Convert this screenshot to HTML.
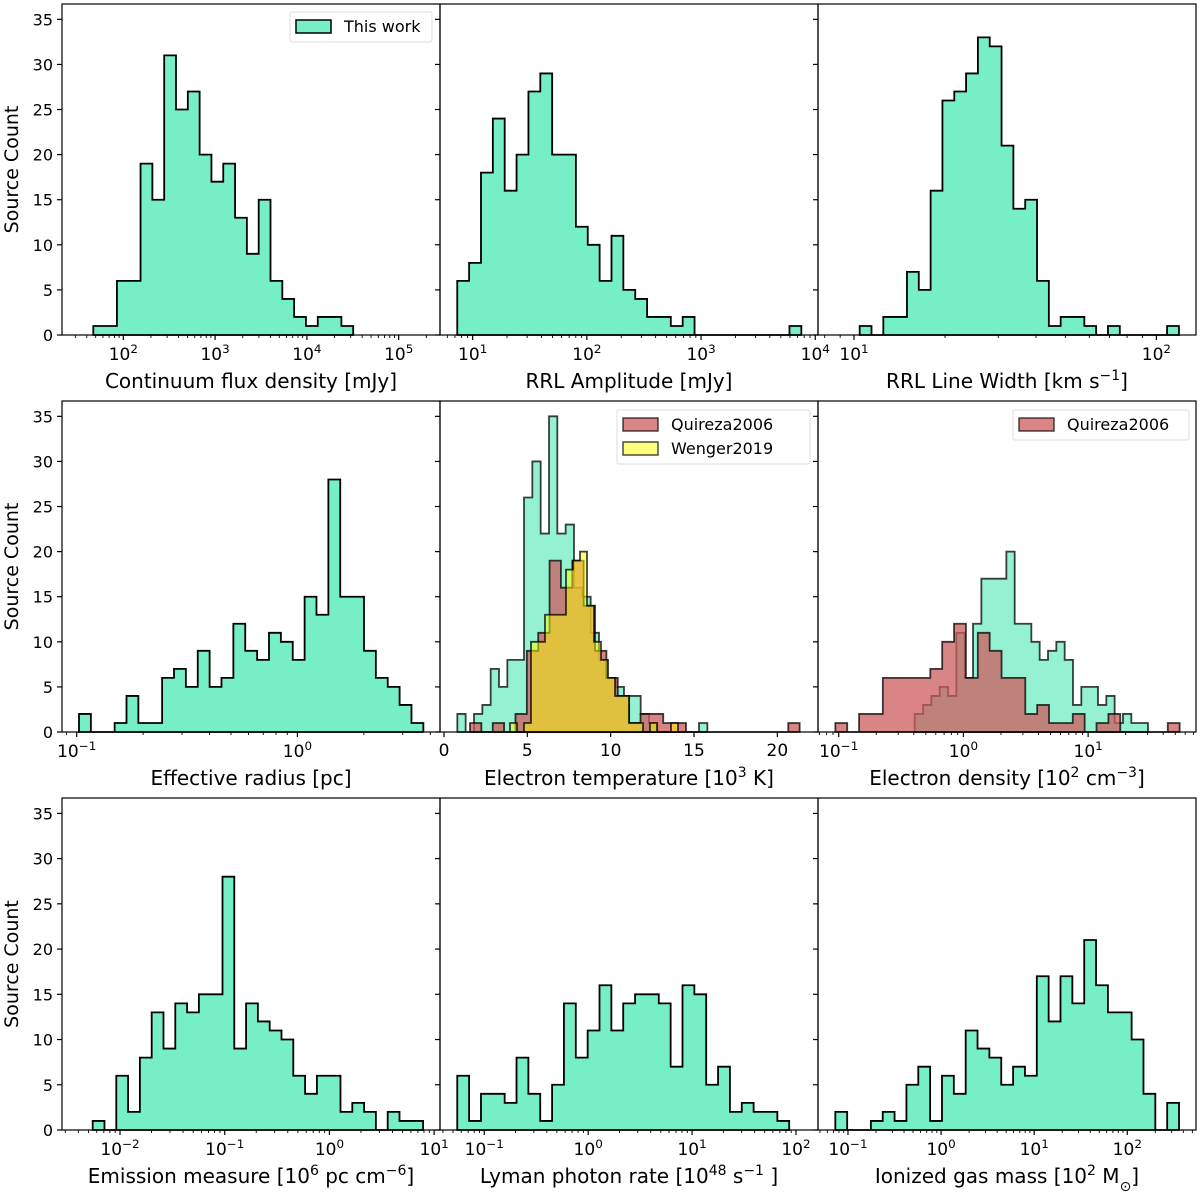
<!DOCTYPE html>
<html><head><meta charset="utf-8"><style>
html,body{margin:0;padding:0;background:#fff;}
svg{display:block;font-family:"DejaVu Sans","Liberation Sans",sans-serif;}
</style></head><body>
<svg id="fig" width="1200" height="1193" viewBox="0 0 1200 1193" xmlns="http://www.w3.org/2000/svg"></svg>
<script>
// ---- data (bin starts / widths in axis units; log axes in log10 units) ----
const fluxCounts = [1,1,6,6,19,15,31,25,27,20,17,19,13,9,15,6,4,2,1,2,2,1];
const fluxBins = [1.673, 0.1287];
const ampCounts = [6,8,18,24,16,20,27,29,20,20,12,10,6,11,5,4,2,2,1,2,0,0,0,0,0,0,0,0,1];
const ampBins = [0.865, 0.1039];
const widthCounts = [1,0,2,2,7,5,16,26,27,29,33,32,21,14,15,6,1,2,2,1,0,1,0,0,0,0,1];
const widthBins = [1.0188, 0.0391];
const radiusCounts = [2,0,0,1,4,1,1,6,7,5,9,5,6,12,9,8,11,10,8,15,13,28,15,15,9,6,5,3,1];
const radiusBins = [-0.9896, 0.0538];
const teCounts = [2,0,2,3,7,5,8,8,26,30,22,35,22,23,16,15,11,8,6,5,4,4,2,1,0,0,0,0,0,1];
const teBins = [0.8, 0.5];
const teQuirezaCounts = [1,0,1,0,2,9,11,19,16,19,14,9,6,4,1,2,2,1,1,0,0,0,0,0,0,0,0,0,1];
const teQuirezaBins = [1.56, 0.682];
const teWengerCounts = [1,0,1,10,10,13,13,13,18,19,20,14,10,8,6,4,4,1,1,0,1,0,0,1];
const teWengerBins = [3.96, 0.42];
const neCounts = [2,3,4,5,4,11,6,12,17,17,17,20,12,12,10,8,9,10,8,3,5,5,3,4,1,2,1,1];
const neBins = [-0.3905, 0.0668];
const neQuirezaCounts = [1,0,2,2,6,6,6,6,7,10,12,6,11,9,6,6,2,3,1,1,2,0,1,2,0,0,0,0,1];
const neQuirezaBins = [-1.027, 0.0952];
const emCounts = [1,0,6,2,8,13,9,14,13,15,15,28,9,14,12,11,10,6,4,6,6,2,3,2,0,2,1,1];
const emBins = [-2.261, 0.1127];
const lymanCounts = [6,1,4,4,3,8,4,1,5,14,8,11,16,11,14,15,15,14,7,16,15,5,7,2,3,2,2,1];
const lymanBins = [-1.26, 0.1141];
const massCounts = [2,0,0,1,2,1,5,7,1,6,4,11,9,8,5,7,6,17,12,17,14,21,16,13,13,10,4,0,3];
const massBins = [-1.136, 0.1273];
const yTickValues = [0,5,10,15,20,25,30,35];
const teTickValues = [0,5,10,15,20];

const NS = "http://www.w3.org/2000/svg";
const svg = document.getElementById('fig');
function el(tag, attrs, parent){const e=document.createElementNS(NS,tag);for(const k in attrs)e.setAttribute(k,attrs[k]);(parent||svg).appendChild(e);return e;}

const GREEN = "#76EEC6", RED = "#CD5C5C", YEL = "#FFFF00";
const YMAX = 36.7;
const cols = [[62,440],[440,818],[818,1196]];
const rows = [[4,335],[401,732],[798,1130]];

function makeAxis(c, r, lo, hi, log){
  const [x0,x1]=cols[c],[yt,yb]=rows[r];
  return {x0,x1,yt,yb,lo,hi,log,
    x:v=>x0+(v-lo)/(hi-lo)*(x1-x0),
    y:v=>yb-v/YMAX*(yb-yt)};
}

function hist(ax, bins, counts, fill, alpha, name){
  const [start,w]=bins;
  let d=`M${ax.x(start)},${ax.y(0)}`;
  counts.forEach((c,i)=>{
    const a=ax.x(start+i*w), b=ax.x(start+(i+1)*w), y=ax.y(c);
    d+=` L${a},${y} L${b},${y}`;
  });
  d+=` L${ax.x(start+counts.length*w)},${ax.y(0)} Z`;
  const p=el('path',{d,fill,'fill-opacity':alpha,stroke:'#000','stroke-opacity':alpha<1?0.75:1,'stroke-width':1.8,'stroke-linejoin':'miter'});
  
  
}

function supText(parent, x, y, parts, size, anchor, name){
  const t=el('text',{x,y,'font-size':size,'text-anchor':anchor||'middle',fill:'#000'},parent);
  
  
  parts.forEach(p=>{
    const s=el('tspan',{},t);
    if(p.sup){s.setAttribute('baseline-shift','super');s.setAttribute('font-size',size*0.7);}
    if(p.sub){s.setAttribute('baseline-shift','sub');s.setAttribute('font-size',size*0.7);}
    s.textContent=p.t;
  });
  return t;
}

function frameAndTicks(ax, showYLabels, xlabel, name, linTicks){
  const g=el('g',{});
  
  
  yTickValues.forEach(v=>{
    const y=ax.y(v);
    el('line',{x1:ax.x0-5,x2:ax.x0,y1:y,y2:y,stroke:'#000','stroke-width':1.2},g);
    if(showYLabels){
      const t=el('text',{x:ax.x0-9,y:y+6,'font-size':16,'text-anchor':'end'},g);
      
      
      t.textContent=v;
    }
  });
  if(linTicks){
    linTicks.forEach(v=>{
      const x=ax.x(v);
      el('line',{x1:x,x2:x,y1:ax.yb,y2:ax.yb+5,stroke:'#000','stroke-width':1.2},g);
      const t=el('text',{x,y:ax.yb+24,'font-size':17,'text-anchor':'middle'},g);
      
      
      t.textContent=v;
    });
  } else {
    for(let d=Math.floor(ax.lo);d<=Math.ceil(ax.hi);d++){
      for(let k=1;k<10;k++){
        const v=d+Math.log10(k);
        if(v<ax.lo||v>ax.hi)continue;
        const x=ax.x(v);
        el('line',{x1:x,x2:x,y1:ax.yb,y2:ax.yb+(k===1?5:3),stroke:'#000','stroke-width':k===1?1.2:0.9},g);
        if(k===1){
          supText(g,x,ax.yb+25,[{t:'10'},{t:(d<0?'\u2212'+(-d):''+d),sup:true}],17,'middle','x-tick-label');
        }
      }
    }
  }
  el('rect',{x:ax.x0,y:ax.yt,width:ax.x1-ax.x0,height:ax.yb-ax.yt,fill:'none',stroke:'#000','stroke-width':1.2},g);
  supText(g,(ax.x0+ax.x1)/2,ax.yb+53,xlabel,20,'middle','x-axis-title');
}

function legend(x,y,w,entries,name){
  const g=el('g',{});
  
  
  const h=entries.length*24+6;
  el('rect',{x,y,width:w,height:h,fill:'#fff','fill-opacity':0.8,stroke:'#ddd','stroke-width':1,rx:2},g);
  entries.forEach((e,i)=>{
    const yy=y+8+i*24;
    el('rect',{x:x+6,y:yy,width:35,height:13,fill:e.c,'fill-opacity':e.a,stroke:'#000','stroke-opacity':e.a<1?0.7:1,'stroke-width':1.5},g);
    const t=el('text',{x:x+54,y:yy+12,'font-size':16},g);
    
    
    t.textContent=e.t;
  });
}

const a1=makeAxis(0,0,1.332,5.45,true);
hist(a1,fluxBins,fluxCounts,GREEN,1,'hist-continuum-flux');
frameAndTicks(a1,true,[{t:'Continuum flux density [mJy]'}],'panel-continuum-flux');

const a2=makeAxis(1,0,0.714,4.024,true);
hist(a2,ampBins,ampCounts,GREEN,1,'hist-rrl-amplitude');
frameAndTicks(a2,false,[{t:'RRL Amplitude [mJy]'}],'panel-rrl-amplitude');

const a3=makeAxis(2,0,0.881,2.131,true);
hist(a3,widthBins,widthCounts,GREEN,1,'hist-rrl-width');
frameAndTicks(a3,false,[{t:'RRL Line Width [km s'},{t:'\u22121',sup:true},{t:']'}],'panel-rrl-width');

const a4=makeAxis(0,1,-1.0666,0.646,true);
hist(a4,radiusBins,radiusCounts,GREEN,1,'hist-effective-radius');
frameAndTicks(a4,true,[{t:'Effective radius [pc]'}],'panel-effective-radius');

const a5=makeAxis(1,1,-0.24,22.44,false);
hist(a5,teBins,teCounts,GREEN,0.78,'hist-te-this-work');
hist(a5,teQuirezaBins,teQuirezaCounts,RED,0.75,'hist-te-quireza2006');
hist(a5,teWengerBins,teWengerCounts,YEL,0.5,'hist-te-wenger2019');
frameAndTicks(a5,false,[{t:'Electron temperature [10'},{t:'3',sup:true},{t:' K]'}],'panel-electron-temperature',teTickValues);

const a6=makeAxis(2,1,-1.166,1.865,true);
hist(a6,neBins,neCounts,GREEN,0.78,'hist-ne-this-work');
hist(a6,neQuirezaBins,neQuirezaCounts,RED,0.75,'hist-ne-quireza2006');
frameAndTicks(a6,false,[{t:'Electron density [10'},{t:'2',sup:true},{t:' cm'},{t:'\u22123',sup:true},{t:']'}],'panel-electron-density');

const a7=makeAxis(0,2,-2.554,1.056,true);
hist(a7,emBins,emCounts,GREEN,1,'hist-emission-measure');
frameAndTicks(a7,true,[{t:'Emission measure [10'},{t:'6',sup:true},{t:' pc cm'},{t:'\u22126',sup:true},{t:']'}],'panel-emission-measure');

const a8=makeAxis(1,2,-1.426,2.212,true);
hist(a8,lymanBins,lymanCounts,GREEN,1,'hist-lyman-rate');
frameAndTicks(a8,false,[{t:'Lyman photon rate [10'},{t:'48',sup:true},{t:' s'},{t:'\u22121',sup:true},{t:' ]'}],'panel-lyman-rate');

const a9=makeAxis(2,2,-1.322,2.738,true);
hist(a9,massBins,massCounts,GREEN,1,'hist-ionized-mass');
frameAndTicks(a9,false,[{t:'Ionized gas mass [10'},{t:'2',sup:true},{t:' M'},{t:'\u2299',sub:true},{t:']'}],'panel-ionized-mass');

rows.forEach((r,i)=>{
  const cy=(r[0]+r[1])/2;
  const t=el('text',{x:0,y:0,'font-size':19,'text-anchor':'middle',transform:`translate(18,${cy}) rotate(-90)`});
  
  
  t.textContent='Source Count';
});

legend(290,12,142,[{t:'This work',c:GREEN,a:1}],'legend-this-work');
legend(617,410,193,[{t:'Quireza2006',c:RED,a:0.75},{t:'Wenger2019',c:YEL,a:0.5}],'legend-te');
legend(1013,410,176,[{t:'Quireza2006',c:RED,a:0.75}],'legend-ne');
</script>
</body></html>
